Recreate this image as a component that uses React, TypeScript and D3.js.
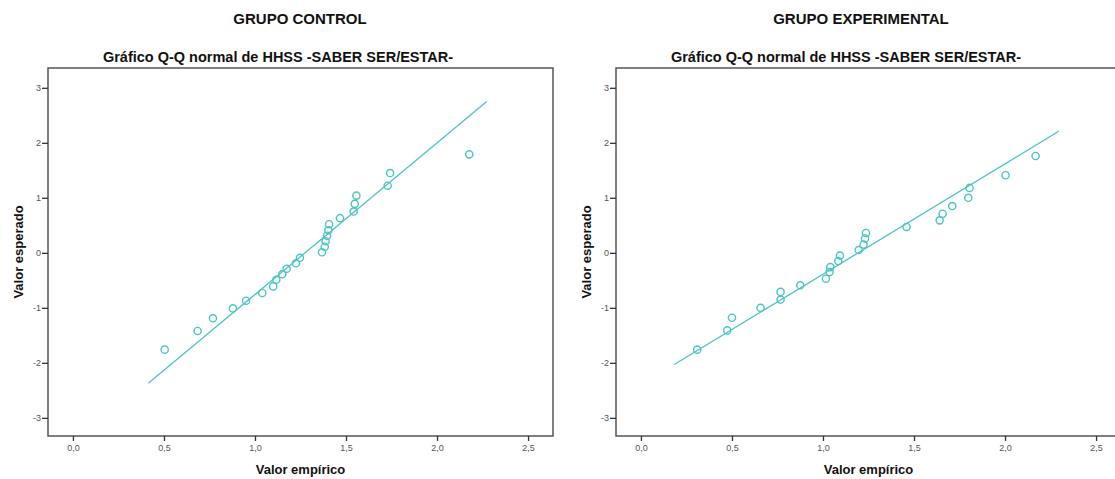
import { useEffect, useRef } from "react";
import * as d3 from "d3";

const CONTROL_X = [0.504, 0.685, 0.769, 0.879, 0.951, 1.04, 1.1, 1.117, 1.15, 1.174, 1.225, 1.247, 1.368, 1.383, 1.388, 1.396, 1.403, 1.407, 1.467, 1.542, 1.548, 1.557, 1.729, 1.742, 2.177];
const CONTROL_Y = [-1.76, -1.42, -1.19, -1.01, -0.87, -0.73, -0.61, -0.49, -0.39, -0.29, -0.19, -0.09, 0.01, 0.11, 0.21, 0.31, 0.41, 0.52, 0.63, 0.75, 0.89, 1.04, 1.22, 1.45, 1.79];
const CONTROL_FIT = [1.275, 0.363]; // mean, sd
const CONTROL_FIT_RANGE = [0.414, 2.273];

const EXPERIMENTAL_X = [0.309, 0.474, 0.5, 0.657, 0.767, 0.767, 0.875, 1.016, 1.036, 1.04, 1.084, 1.093, 1.196, 1.223, 1.231, 1.236, 1.459, 1.641, 1.657, 1.71, 1.798, 1.805, 2.003, 2.168];
const EXPERIMENTAL_Y = [-1.76, -1.41, -1.18, -1.0, -0.85, -0.71, -0.59, -0.47, -0.35, -0.26, -0.15, -0.05, 0.05, 0.15, 0.26, 0.36, 0.47, 0.59, 0.71, 0.85, 1.0, 1.18, 1.41, 1.76];
const EXPERIMENTAL_FIT = [1.194, 0.498];
const EXPERIMENTAL_FIT_RANGE = [0.183, 2.295];

const X_TICKS = [0, 0.5, 1, 1.5, 2, 2.5];
const Y_TICKS = [-3, -2, -1, 0, 1, 2, 3];
const X_DOMAIN = [-0.137, 2.637];
const Y_DOMAIN = [-3.33, 3.36];

const GROUPS = ["GRUPO CONTROL", "GRUPO EXPERIMENTAL"];
const SUBTITLE = "Gráfico Q-Q normal de HHSS -SABER SER/ESTAR-";
const X_LABEL = "Valor empírico";
const Y_LABEL = "Valor esperado";

const TEAL = "#4cc4c4";
const FONT = "'Liberation Sans', Arial, sans-serif";

export default function App() {
  const svgRef = useRef<SVGSVGElement>(null);

  useEffect(() => {
    if (!svgRef.current) return;
    const svg = d3.select(svgRef.current);
    svg.selectAll("*").remove();

    const top = 68;
    const bottom = 436;
    const plotW = 505;

    const panels = [
      { left: 48, titleDx: 252, title: GROUPS[0], xs: CONTROL_X, ys: CONTROL_Y, fit: CONTROL_FIT, range: CONTROL_FIT_RANGE },
      { left: 616, titleDx: 245, title: GROUPS[1], xs: EXPERIMENTAL_X, ys: EXPERIMENTAL_Y, fit: EXPERIMENTAL_FIT, range: EXPERIMENTAL_FIT_RANGE },
    ];

    const fmt = (d: d3.NumberValue) => d3.format(".1f")(Number(d)).replace(".", ",");

    panels.forEach((p) => {
      const x = d3.scaleLinear().domain(X_DOMAIN).range([p.left, p.left + plotW]);
      const y = d3.scaleLinear().domain(Y_DOMAIN).range([bottom, top]);
      const g = svg.append("g");

      g.append("text")
        .attr("x", p.left + p.titleDx)
        .attr("y", 24)
        .attr("text-anchor", "middle")
        .attr("font-family", FONT)
        .attr("font-weight", "bold")
        .attr("font-size", "15px")
        .attr("fill", "#111")
        .text(p.title);

      g.append("text")
        .attr("x", p.left + 230)
        .attr("y", 62)
        .attr("text-anchor", "middle")
        .attr("font-family", FONT)
        .attr("font-weight", "bold")
        .attr("font-size", "14.5px")
        .attr("fill", "#111")
        .text(SUBTITLE);

      // frame
      g.append("rect")
        .attr("x", p.left)
        .attr("y", top)
        .attr("width", plotW)
        .attr("height", bottom - top)
        .attr("fill", "none")
        .attr("stroke", "#555")
        .attr("stroke-width", 1.5);

      g.append("g")
        .attr("transform", `translate(0,${bottom})`)
        .call(d3.axisBottom(x).tickValues(X_TICKS).tickSize(5).tickPadding(4).tickFormat(fmt))
        .call((a) => a.select(".domain").remove())
        .call((a) => a.selectAll(".tick line").attr("stroke", "#333").attr("stroke-width", 1.3))
        .call((a) => a.selectAll(".tick text").attr("fill", "#555").attr("font-size", "9px").attr("font-family", FONT));

      g.append("g")
        .attr("transform", `translate(${p.left},0)`)
        .call(d3.axisLeft(y).tickValues(Y_TICKS).tickSize(6).tickPadding(1).tickFormat((d) => String(d)))
        .call((a) => a.select(".domain").remove())
        .call((a) => a.selectAll(".tick line").attr("stroke", "#333").attr("stroke-width", 1.3))
        .call((a) => a.selectAll(".tick text").attr("fill", "#555").attr("font-size", "9px").attr("font-family", FONT));

      g.append("text")
        .attr("x", x(X_DOMAIN[0]) + plotW / 2)
        .attr("y", 474)
        .attr("text-anchor", "middle")
        .attr("font-family", FONT)
        .attr("font-weight", "bold")
        .attr("font-size", "13px")
        .attr("fill", "#111")
        .text(X_LABEL);

      g.append("text")
        .attr("transform", `translate(${p.left - 25},${(top + bottom) / 2}) rotate(-90)`)
        .attr("text-anchor", "middle")
        .attr("font-family", FONT)
        .attr("font-weight", "bold")
        .attr("font-size", "13px")
        .attr("fill", "#111")
        .text(Y_LABEL);

      const [mean, sd] = p.fit;
      const line = d3
        .line<number>()
        .x((d) => x(d))
        .y((d) => y((d - mean) / sd));
      g.append("path")
        .datum(p.range)
        .attr("d", line)
        .attr("fill", "none")
        .attr("stroke", TEAL)
        .attr("stroke-width", 1.3);

      g.selectAll("circle.pt")
        .data(p.xs)
        .join("circle")
        .attr("class", "pt")
        .attr("cx", (d) => x(d))
        .attr("cy", (_, i) => y(p.ys[i]))
        .attr("r", 3.6)
        .attr("fill", "none")
        .attr("stroke", TEAL)
        .attr("stroke-width", 1.4);
    });
  }, []);

  return (
    <svg
      ref={svgRef}
      width={1115}
      height={479}
      style={{ position: "fixed", left: 0, top: 0, background: "#fff", display: "block" }}
    />
  );
}
